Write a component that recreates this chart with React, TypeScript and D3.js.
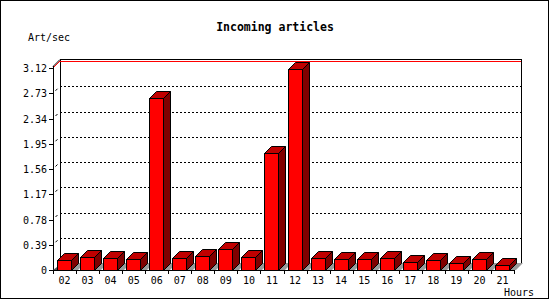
import React from "react";
import * as d3 from "d3";

const categories = ["02","03","04","05","06","07","08","09","10","11","12","13","14","15","16","17","18","19","20","21"];
const values = [0.155,0.196,0.18,0.165,2.65,0.18,0.216,0.324,0.196,1.81,3.10,0.18,0.165,0.17,0.18,0.119,0.155,0.103,0.165,0.072];
const yTicks = [0,0.39,0.78,1.17,1.56,1.95,2.34,2.73,3.12];
const yTickLabels = ["0","0.39","0.78","1.17","1.56","1.95","2.34","2.73","3.12"];
const maxValue = 3.12;
const title = "Incoming articles";
const yTitle = "Art/sec";
const xTitle = "Hours";

export default function App() {
  const W = 550, H = 300;
  const D = 7;
  const left = 53, right = 514, bottom = 270, top = 68;
  const x = d3.scaleBand<string>().domain(categories).range([left, right]).paddingInner(0).paddingOuter(0);
  const y = d3.scaleLinear().domain([0, maxValue]).range([bottom, top]);
  const bw = x.bandwidth();
  const barW = 14;
  const off = 4;
  const mono = "'DejaVu Sans Mono', 'Liberation Mono', monospace";

  return (
    <div style={{ position: "fixed", left: 0, top: 0 }}>
      <svg width={W} height={H} viewBox={`0 0 ${W} ${H}`} style={{ display: "block", background: "#fff" }}>
        <rect x={0.5} y={0.5} width={W - 2} height={H - 2} fill="#fff" stroke="#000" shapeRendering="crispEdges" />
        <text x={W / 2} y={31} textAnchor="middle" fontFamily={mono} fontWeight="bold" fontSize={11.5}>{title}</text>
        <text x={28} y={41} fontFamily={mono} fontSize={10}>{yTitle}</text>
        <text x={534} y={296} textAnchor="end" fontFamily={mono} fontSize={10}>{xTitle}</text>

        {/* back plane */}
        <g shapeRendering="crispEdges" stroke="#000" fill="none">
          <line x1={left + D + 0.5} y1={top - D - 1} x2={left + D + 0.5} y2={bottom - D} />
          <line x1={left + D} y1={top - D - 1.5} x2={right + D + 0.5} y2={top - D - 1.5} />
          <line x1={right + D + 0.5} y1={top - D - 1.5} x2={right + D + 0.5} y2={bottom - D} />
        </g>
        {/* grid lines */}
        {yTicks.slice(1, -1).map((t) => (
          <line key={"g" + t} x1={left + D} x2={right + D} y1={Math.round(y(t)) - D + 0.5} y2={Math.round(y(t)) - D + 0.5}
            stroke="#000" strokeDasharray="2,2" shapeRendering="crispEdges" />
        ))}
        {/* max line */}
        <line x1={left + D} x2={right + D} y1={y(maxValue) - D + 0.5} y2={y(maxValue) - D + 0.5} stroke="#f00" shapeRendering="crispEdges" />
        <line x1={left} y1={y(maxValue)} x2={left + D} y2={y(maxValue) - D} stroke="#f00" />
        <line x1={left} y1={y(maxValue) - 1.5} x2={left + D} y2={y(maxValue) - D - 1.5} stroke="#000" />

        {/* floor outline */}
        <line x1={right} y1={bottom} x2={right + D} y2={bottom - D} stroke="#000" />

        {/* y axis */}
        <g shapeRendering="crispEdges" stroke="#000">
          <line x1={left + 0.5} x2={left + 0.5} y1={top - 2} y2={bottom + 4} />
          <line x1={left} x2={right} y1={bottom + 0.5} y2={bottom + 0.5} />
          {yTicks.map((t) => (
            <line key={"yt" + t} x1={left - 4} x2={left} y1={Math.round(y(t)) + 0.5} y2={Math.round(y(t)) + 0.5} />
          ))}
          {categories.map((c) => (
            <line key={"xt" + c} x1={Math.round(x(c)!) + 0.5} x2={Math.round(x(c)!) + 0.5} y1={bottom} y2={bottom + 4} />
          ))}
          <line x1={right + 0.5} x2={right + 0.5} y1={bottom} y2={bottom + 4} />
        </g>
        {yTicks.slice(1, -1).map((t) => (
          <line key={"dd" + t} x1={left + 2.5} y1={y(t) - 2.5} x2={left + 4.5} y2={y(t) - 4.5} stroke="#000" />
        ))}
        <polygon points={`${left},${bottom} ${left + 4},${bottom} ${left + 4},${bottom - 3}`} fill="#555" />

        {/* bars */}
        {categories.map((c, i) => {
          const x0 = Math.round(x(c)! + off);
          const x1 = x0 + barW;
          const yt = Math.round(y(values[i]));
          const yb = bottom;
          return (
            <g key={"b" + c}>
              <polygon points={`${x0},${yb} ${x1 + 7},${yb} ${x1 + 7 + D},${yb - D} ${x0 + D},${yb - D}`} fill="#999" />
              <polygon points={`${x0 + 0.5},${yt + 0.5} ${x0 + D + 0.5},${yt - D + 0.5} ${x1 + D + 0.5},${yt - D + 0.5} ${x1 + 0.5},${yt + 0.5}`}
                fill="#c00000" stroke="#000" />
              <polygon points={`${x1 + 0.5},${yt + 0.5} ${x1 + D + 0.5},${yt - D + 0.5} ${x1 + D + 0.5},${yb - D + 0.5} ${x1 + 0.5},${yb + 0.5}`}
                fill="#800000" stroke="#000" />
              <rect x={x0 + 0.5} y={yt + 0.5} width={barW} height={yb - yt} fill="#f00" stroke="#000" shapeRendering="crispEdges" />
            </g>
          );
        })}

        {/* labels */}
        {yTicks.map((t, i) => (
          <text key={"yl" + t} x={47} y={Math.round(y(t)) + 4} textAnchor="end" fontFamily={mono} fontSize={10}>{yTickLabels[i]}</text>
        ))}
        {categories.map((c) => (
          <text key={"xl" + c} x={x(c)! + bw / 2} y={284} textAnchor="middle" fontFamily={mono} fontSize={10}>{c}</text>
        ))}
      </svg>
    </div>
  );
}
